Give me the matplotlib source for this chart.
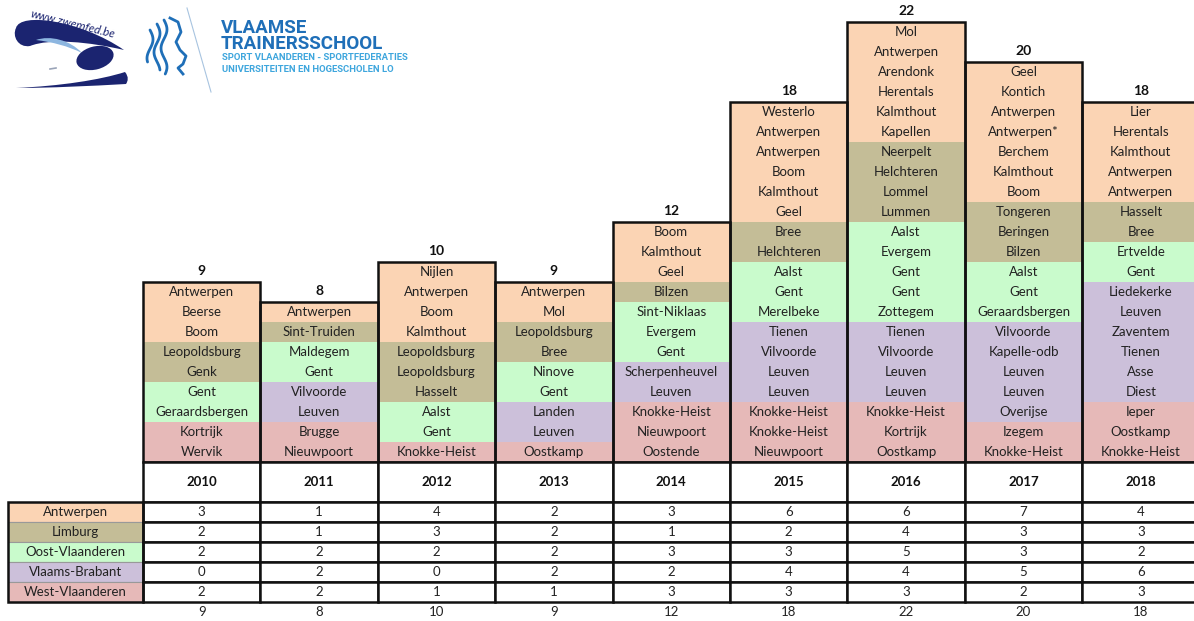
import numpy as np
import matplotlib.pyplot as plt
from matplotlib.patches import Rectangle, Ellipse, PathPatch
from matplotlib.path import Path

plt.rcParams['font.family'] = ['Lato', 'DejaVu Sans']

years = ['2010', '2011', '2012', '2013', '2014', '2015', '2016', '2017', '2018']
provinces = ['Antwerpen', 'Limburg', 'Oost-Vlaanderen', 'Vlaams-Brabant', 'West-Vlaanderen']
prov_colors = ['#FBD4B4', '#C4BD97', '#C9FBCC', '#CCC0DA', '#E6B9B8']

# table values per province
antwerpen = [3, 1, 4, 2, 3, 6, 6, 7, 4]
limburg = [2, 1, 3, 2, 1, 2, 4, 3, 3]
oost_vl = [2, 2, 2, 2, 3, 3, 5, 3, 2]
vl_brabant = [0, 2, 0, 2, 2, 4, 4, 5, 6]
west_vl = [2, 2, 1, 1, 3, 3, 3, 2, 3]
totals = [9, 8, 10, 9, 12, 18, 22, 20, 18]

# cities per year, top to bottom
cities = [
    ['Antwerpen', 'Beerse', 'Boom', 'Leopoldsburg', 'Genk', 'Gent', 'Geraardsbergen', 'Kortrijk', 'Wervik'],
    ['Antwerpen', 'Sint-Truiden', 'Maldegem', 'Gent', 'Vilvoorde', 'Leuven', 'Brugge', 'Nieuwpoort'],
    ['Nijlen', 'Antwerpen', 'Boom', 'Kalmthout', 'Leopoldsburg', 'Leopoldsburg', 'Hasselt', 'Aalst', 'Gent',
     'Knokke-Heist'],
    ['Antwerpen', 'Mol', 'Leopoldsburg', 'Bree', 'Ninove', 'Gent', 'Landen', 'Leuven', 'Oostkamp'],
    ['Boom', 'Kalmthout', 'Geel', 'Bilzen', 'Sint-Niklaas', 'Evergem', 'Gent', 'Scherpenheuvel', 'Leuven',
     'Knokke-Heist', 'Nieuwpoort', 'Oostende'],
    ['Westerlo', 'Antwerpen', 'Antwerpen', 'Boom', 'Kalmthout', 'Geel', 'Bree', 'Helchteren', 'Aalst', 'Gent',
     'Merelbeke', 'Tienen', 'Vilvoorde', 'Leuven', 'Leuven', 'Knokke-Heist', 'Knokke-Heist', 'Nieuwpoort'],
    ['Mol', 'Antwerpen', 'Arendonk', 'Herentals', 'Kalmthout', 'Kapellen', 'Neerpelt', 'Helchteren', 'Lommel',
     'Lummen', 'Aalst', 'Evergem', 'Gent', 'Gent', 'Zottegem', 'Tienen', 'Vilvoorde', 'Leuven', 'Leuven',
     'Knokke-Heist', 'Kortrijk', 'Oostkamp'],
    ['Geel', 'Kontich', 'Antwerpen', 'Antwerpen*', 'Berchem', 'Kalmthout', 'Boom', 'Tongeren', 'Beringen',
     'Bilzen', 'Aalst', 'Gent', 'Geraardsbergen', 'Vilvoorde', 'Kapelle-odb', 'Leuven', 'Leuven', 'Overijse',
     'Izegem', 'Knokke-Heist'],
    ['Lier', 'Herentals', 'Kalmthout', 'Antwerpen', 'Antwerpen', 'Hasselt', 'Bree', 'Ertvelde', 'Gent',
     'Liedekerke', 'Leuven', 'Zaventem', 'Tienen', 'Asse', 'Diest', 'Ieper', 'Oostkamp', 'Knokke-Heist'],
]

# colour groups in the stacks (Antwerpen ... West-Vlaanderen), top to bottom
stack_groups = [
    [3, 2, 2, 0, 2], [1, 1, 2, 2, 2], [4, 3, 2, 0, 1], [2, 2, 2, 2, 1], [3, 1, 3, 2, 3],
    [6, 2, 3, 4, 3], [6, 4, 5, 4, 3], [7, 3, 3, 5, 2], [5, 2, 2, 6, 3],
]

table = np.array([antwerpen, limburg, oost_vl, vl_brabant, west_vl])

W, H = 1194, 621
fig = plt.figure(figsize=(W / 100, H / 100), dpi=100)
ax = fig.add_axes([0, 0, 1, 1])
colw, rowh, x0, base = 117.4, 20.0, 143, 462
ax.set_xlim(-x0 / colw, (W - x0) / colw)
ax.set_ylim(-(H - base) / rowh, base / rowh)
ax.axis('off')

lw = 1.8
for i, yr in enumerate(years):
    names = cities[i]
    n = len(names)
    # colour per cell, top to bottom
    cols = []
    for g, c in zip(stack_groups[i], prov_colors):
        cols += [c] * g
    for k, (name, c) in enumerate(zip(names, cols)):
        ytop = n - k
        ax.add_patch(Rectangle((i, ytop - 1), 1, 1, facecolor=c, edgecolor='none', zorder=1))
        ax.text(i + 0.5, ytop - 0.5, name, ha='center', va='center', fontsize=9.5, color='#222222', zorder=3)
    ax.add_patch(Rectangle((i, 0), 1, n, facecolor='none', edgecolor='#111111', lw=lw, zorder=4))
    ax.text(i + 0.5, n + 0.55, str(totals[i]), ha='center', va='center', fontsize=10,
            fontweight='bold', color='#111111')
    # year header
    ax.add_patch(Rectangle((i, -2), 1, 2, facecolor='white', edgecolor='#111111', lw=lw, zorder=4))
    ax.text(i + 0.5, -1, yr, ha='center', va='center', fontsize=9.5, fontweight='bold', color='#111111',
            zorder=5)
    # table cells
    for r in range(5):
        y = -3 - r
        ax.add_patch(Rectangle((i, y), 1, 1, facecolor='white', edgecolor='#111111', lw=lw, zorder=4))
        ax.text(i + 0.5, y + 0.5, str(table[r, i]), ha='center', va='center', fontsize=9.5, color='#222222',
                zorder=5)
    ax.text(i + 0.5, -7.5, str(totals[i]), ha='center', va='center', fontsize=9.5, color='#222222')

# province label column
lx = -(x0 - 8) / colw
for r, (p, c) in enumerate(zip(provinces, prov_colors)):
    y = -3 - r
    ax.add_patch(Rectangle((lx, y), -lx, 1, facecolor=c, edgecolor='#999999', lw=0.8, zorder=2))
    ax.text(lx / 2, y + 0.5, p, ha='center', va='center', fontsize=9.5, color='#222222', zorder=5)
ax.add_patch(Rectangle((lx, -7), -lx, 5, facecolor='none', edgecolor='#111111', lw=lw, zorder=4))

# logos (pixel coordinates)
lax = fig.add_axes([0, 0, 1, 1], facecolor='none')
lax.set_xlim(0, W)
lax.set_ylim(H, 0)
lax.axis('off')
navy = '#1b2470'
C4 = Path.CURVE4
top = Path([(16, 28), (20, 12), (80, 20), (124, 50), (90, 42), (50, 38), (30, 46),
            (18, 48), (12, 36), (16, 28)],
           [Path.MOVETO, C4, C4, C4, C4, C4, C4, C4, C4, C4])
lax.add_patch(PathPatch(top, facecolor=navy, edgecolor='none'))
light = Path([(36, 40), (50, 35), (70, 40), (82, 53), (68, 46), (52, 42), (36, 40)],
             [Path.MOVETO, C4, C4, C4, C4, C4, C4])
lax.add_patch(PathPatch(light, facecolor='#8db6e0', edgecolor='none'))
lax.add_patch(Ellipse((95, 58), 38, 23, angle=-15, facecolor=navy, edgecolor='none'))
bot = Path([(16, 88), (60, 86), (100, 80), (125, 72), (129, 77), (128, 81), (126, 84),
            (90, 86), (50, 88), (16, 88)],
           [Path.MOVETO, C4, C4, C4, C4, C4, C4, C4, C4, C4])
lax.add_patch(PathPatch(bot, facecolor=navy, edgecolor='none'))
lax.plot([50, 56], [69, 68], color='#9aa4b8', lw=1.2)
lax.text(73, 24, 'www.zwemfed.be', rotation=-14, ha='center', va='center', fontsize=8.5, color=navy,
         style='italic')

# lion
blue = '#1f6fb8'
for dx, y1, y2 in [(0, 30, 62), (7, 24, 70), (14, 20, 74)]:
    ys = np.linspace(y1, y2, 30)
    xs = 150 + dx + 3 * np.sin((ys - y1) / 6.0)
    lax.plot(xs, ys, color=blue, lw=2.0, solid_capstyle='round')
face_x = [170, 178, 181, 176, 180, 186, 183, 178, 183]
face_y = [18, 22, 32, 42, 50, 56, 64, 68, 74]
lax.plot(face_x, face_y, color=blue, lw=2.0)
lax.plot([187, 211], [8, 92], color='#a8c4e0', lw=0.8)
lax.text(221, 36, 'VLAAMSE\nTRAINERSSCHOOL', fontsize=13.5, fontweight='bold', color=blue, va='center',
         linespacing=0.82, family='Roboto')
lax.text(222, 58, 'SPORT VLAANDEREN - SPORTFEDERATIES', fontsize=6.8, fontweight='bold', color='#3ea6dd',
         va='center', family='Roboto')
lax.text(222, 70, 'UNIVERSITEITEN EN HOGESCHOLEN LO', fontsize=6.8, fontweight='bold', color='#3ea6dd',
         va='center', family='Roboto')

fig.savefig('out.png', dpi=100)
